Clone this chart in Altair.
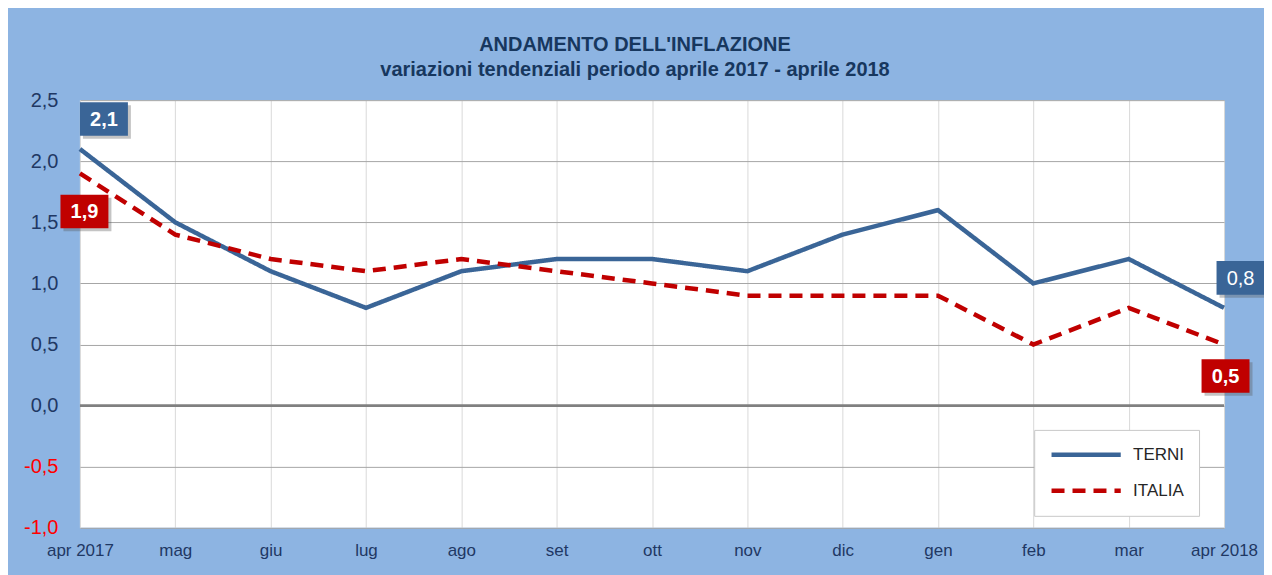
import altair as alt
import pandas as pd

months = ["apr 2017", "mag", "giu", "lug", "ago", "set", "ott", "nov", "dic", "gen", "feb", "mar", "apr 2018"]
terni = [2.1, 1.5, 1.1, 0.8, 1.1, 1.2, 1.2, 1.1, 1.4, 1.6, 1.0, 1.2, 0.8]
italia = [1.9, 1.4, 1.2, 1.1, 1.2, 1.1, 1.0, 0.9, 0.9, 0.9, 0.5, 0.8, 0.5]
series = ["TERNI", "ITALIA"]
colors = ["#3A6597", "#C00000"]
y_ticks = [-1.0, -0.5, 0.0, 0.5, 1.0, 1.5, 2.0, 2.5]
title_lines = ["ANDAMENTO DELL'INFLAZIONE", "variazioni tendenziali periodo aprile 2017 - aprile 2018"]

rows = []
for i, m in enumerate(months):
    rows.append({"month": m, "series": "TERNI", "value": terni[i]})
    rows.append({"month": m, "series": "ITALIA", "value": italia[i]})
df = pd.DataFrame(rows)

FONT = "Liberation Sans"
NAVY = "#1F3864"

x_enc = alt.X(
    "month:N", sort=months, scale=alt.Scale(type="point", padding=0),
    axis=alt.Axis(title=None, labelAngle=0, grid=True, gridColor="#D9D9D9", gridWidth=1,
                  ticks=False, domain=False, labelFontSize=17, labelColor=NAVY,
                  labelPadding=15, labelFont=FONT),
)
y_enc = alt.Y(
    "value:Q", scale=alt.Scale(domain=[-1, 2.5], nice=False, zero=False),
    axis=alt.Axis(values=y_ticks, title=None, grid=True, gridColor="#A6A6A6", gridWidth=1,
                  ticks=False, domain=False, labelFontSize=20, labelFont=FONT,
                  labelPadding=22,
                  labelExpr="replace(replace(format(datum.value, '.1f'), '.', ','), '\u2212', '-')",
                  labelColor={"condition": {"test": "datum.value < 0", "value": "#FF0000"}, "value": NAVY}),
)

legend_props = dict(
    title=None, orient="none", legendX=955, legendY=330, fillColor="white",
    strokeColor="#C8C8C8", padding=15, rowPadding=16, symbolType="stroke",
    symbolSize=4800, symbolStrokeWidth=4.5, clipHeight=20, labelFontSize=17, labelFont=FONT,
    labelColor="#262626", labelOffset=10, labelLimit=200,
)

base = alt.Chart(df)

zero = alt.Chart(pd.DataFrame({"z": [0]})).mark_rule(color="#808080", strokeWidth=3).encode(
    y=alt.Y("z:Q", scale=alt.Scale(domain=[-1, 2.5], nice=False, zero=False))
)

lines = base.mark_line(strokeWidth=4.5).encode(
    x=x_enc, y=y_enc,
    color=alt.Color("series:N", scale=alt.Scale(domain=series, range=colors),
                    legend=alt.Legend(**legend_props)),
    strokeDash=alt.StrokeDash("series:N", scale=alt.Scale(domain=series, range=[[1, 0], [13, 8]]),
                              legend=alt.Legend(**legend_props)),
    order=alt.Order("series:N", sort="ascending"),
)

# value labels at first and last point
label_specs = [
    ("TERNI", months[0], 24, -30, colors[0], "bold"),
    ("ITALIA", months[0], 4.5, 38, colors[1], "bold"),
    ("TERNI", months[-1], 16.5, -30, colors[0], "normal"),
    ("ITALIA", months[-1], 1.5, 31.5, colors[1], "bold"),
]
box_shape = "M-1,-0.7L1,-0.7L1,0.7L-1,0.7Z"
label_layers = []
for s, m, dx, dy, col, fw in label_specs:
    sub = df[(df.series == s) & (df.month == m)].copy()
    sub["txt"] = sub["value"].map(lambda v: f"{v:.1f}".replace(".", ","))
    c = alt.Chart(sub)
    shadow = c.mark_point(shape=box_shape, filled=True, size=2304, color="#555555", opacity=0.35,
                          xOffset=dx + 3, yOffset=dy + 3).encode(x=alt.X("month:N", sort=months), y="value:Q")
    box = c.mark_point(shape=box_shape, filled=True, size=2304, color=col, opacity=1,
                       xOffset=dx, yOffset=dy).encode(x=alt.X("month:N", sort=months), y="value:Q")
    txt = c.mark_text(color="white", font=FONT, fontSize=20, fontWeight=fw, dx=dx, dy=dy + 1,
                      baseline="middle", align="center").encode(
        x=alt.X("month:N", sort=months), y="value:Q", text="txt:N")
    label_layers += [shadow, box, txt]

chart = alt.layer(zero, lines, *label_layers).properties(
    width=1145, height=428,
    padding={"left": 72, "top": 92, "right": 40, "bottom": 50},
    autosize=alt.AutoSizeParams(type="none"),
    background="#8DB4E2",
    title=alt.TitleParams(text=title_lines, fontSize=20, font=FONT, fontWeight="bold", color="#17375E",
                          anchor="middle", dx=-17, offset=10, lineHeight=25),
).configure_view(fill="white", stroke=None)

chart.save("out.html", embed_options={"renderer": "svg", "actions": False})
